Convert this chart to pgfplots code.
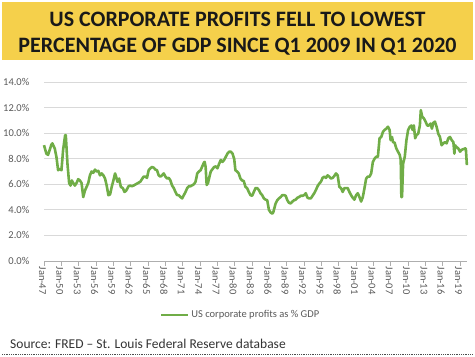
\documentclass[border=0pt]{standalone}
\usepackage{pgfplots}
\pgfplotsset{compat=1.18}
\usepackage{fontspec}
\setmainfont{Carlito}
\definecolor{titlebg}{RGB}{245,208,75}
\definecolor{linegreen}{RGB}{112,173,71}
\definecolor{gridgray}{RGB}{217,217,217}
\definecolor{ticktext}{RGB}{89,89,89}
\begin{document}
\begin{tikzpicture}
\useasboundingbox (0bp,0bp) rectangle (475bp,357bp);
\fill[titlebg] (2bp,297bp) rectangle (473bp,355bp);
\node[anchor=base,inner sep=0pt,text=black!90,font=\fontsize{22bp}{26bp}\selectfont\bfseries] at (237.5bp,330bp) {US CORPORATE PROFITS FELL TO LOWEST};
\node[anchor=base,inner sep=0pt,text=black!90,font=\fontsize{22bp}{26bp}\selectfont\bfseries] at (237.5bp,304bp) {PERCENTAGE OF GDP SINCE Q1 2009 IN Q1 2020};
\begin{axis}[
  at={(44bp,96bp)}, anchor=south west,
  scale only axis, width=423bp, height=179bp,
  xmin=1947, xmax=2020.2, ymin=0, ymax=14,
  axis line style={draw=none},
  axis x line*=bottom,
  x axis line style={draw=gridgray!80!black, line width=0.8bp},
  ytick={0,2,...,14},
  yticklabels={0.0\%,2.0\%,4.0\%,6.0\%,8.0\%,10.0\%,12.0\%,14.0\%},
  ymajorgrids, grid style={gridgray, line width=0.9bp},
  ytick style={draw=none},
  xtick={1947,1950,...,2019},
  xticklabels={Jan-47,Jan-50,Jan-53,Jan-56,Jan-59,Jan-62,Jan-65,Jan-68,Jan-71,Jan-74,Jan-77,Jan-80,Jan-83,Jan-86,Jan-89,Jan-92,Jan-95,Jan-98,Jan-01,Jan-04,Jan-07,Jan-10,Jan-13,Jan-16,Jan-19},
  xtick pos=bottom, tick align=outside,
  major tick length=4.5bp,
  xtick style={draw=gridgray!80!black, line width=0.8bp},
  tick label style={font=\fontsize{10.5bp}{12bp}\selectfont, text=ticktext},
  xticklabel style={rotate=-90, anchor=west, inner sep=1bp, yshift=-1.5bp},
  yticklabel style={anchor=east, inner sep=0pt, xshift=-10bp},
  legend style={at={(0.4645,-0.302)}, anchor=center, draw=none, fill=none,
    font=\fontsize{10.5bp}{12bp}\selectfont, text=ticktext, inner sep=0pt},
  legend image code/.code={\draw[#1] (0bp,0bp) -- (27bp,0bp);},
  clip=false,
]
\addplot[linegreen, line width=2.6bp, line join=round] coordinates {
(1947.00,9.06)(1947.41,8.4)(1947.70,8.3)(1947.99,8.7)(1948.28,9.1)(1948.45,9.2)(1948.86,8.8)(1949.15,8.15)(1949.44,7.1)(1949.73,7.2)(1950.02,7.1)(1950.31,8.7)(1950.66,9.85)(1950.77,9.85)(1951.06,7.6)(1951.35,6.1)(1951.59,5.9)(1951.82,6.3)(1952.05,6.1)(1952.34,5.9)(1952.63,6.1)(1952.92,6.4)(1953.21,6.3)(1953.50,6.1)(1953.79,5.0)(1954.08,5.5)(1954.37,5.8)(1954.66,6.1)(1954.95,6.7)(1955.24,7.0)(1955.53,6.9)(1955.82,7.15)(1956.11,7.0)(1956.40,7.05)(1956.69,6.7)(1956.98,6.85)(1957.27,6.7)(1957.56,6.45)(1957.85,5.9)(1958.14,5.15)(1958.43,5.2)(1958.72,5.8)(1959.01,6.3)(1959.30,6.85)(1959.48,6.6)(1959.71,6.2)(1960.00,6.45)(1960.29,5.8)(1960.64,5.7)(1960.93,5.4)(1961.22,5.5)(1961.63,5.85)(1961.92,5.9)(1962.21,5.85)(1962.50,5.9)(1963.08,6.05)(1963.66,6.2)(1963.95,6.4)(1964.24,6.6)(1964.53,6.6)(1964.82,6.5)(1965.11,7.1)(1965.40,7.25)(1965.69,7.35)(1965.98,7.3)(1966.27,7.15)(1966.56,7.1)(1966.85,6.7)(1967.14,6.6)(1967.43,6.7)(1967.72,6.85)(1968.01,6.6)(1968.30,6.45)(1968.59,6.5)(1968.88,6.3)(1969.17,5.9)(1969.46,5.7)(1969.75,5.4)(1970.04,5.15)(1970.33,5.15)(1970.62,5.0)(1970.91,4.9)(1971.20,5.15)(1971.49,5.4)(1971.78,5.7)(1972.07,5.85)(1972.36,5.85)(1972.94,6.0)(1973.23,6.2)(1973.52,6.85)(1973.81,7.0)(1974.10,7.1)(1974.39,7.4)(1974.68,7.7)(1974.80,7.75)(1974.97,7.35)(1975.15,5.95)(1975.38,6.1)(1975.56,6.45)(1975.85,7.0)(1976.43,7.35)(1976.72,7.4)(1977.01,7.25)(1977.30,7.6)(1977.59,7.9)(1977.88,7.75)(1978.17,7.9)(1978.46,8.15)(1978.75,8.4)(1979.04,8.55)(1979.33,8.55)(1979.62,8.4)(1979.91,8.0)
(1980.12,7.1)(1980.41,7.0)(1980.70,6.85)(1980.99,6.45)(1981.28,6.3)(1981.57,6.25)(1981.86,5.8)(1982.15,5.7)(1982.44,5.4)(1982.73,5.15)(1983.02,5.1)(1983.31,5.4)(1983.60,5.7)(1983.89,5.7)(1984.18,5.55)(1984.47,5.3)(1984.76,5.15)(1985.05,4.9)(1985.34,4.8)(1985.63,4.75)(1985.92,4.0)(1986.21,3.8)(1986.50,3.7)(1986.67,3.8)(1987.08,4.5)(1987.37,4.75)(1987.66,4.9)(1987.95,5.0)(1988.24,5.15)(1988.53,5.15)(1988.82,5.1)(1989.11,4.75)(1989.40,4.55)(1989.69,4.5)(1989.98,4.65)(1990.27,4.75)(1990.56,4.8)(1990.85,4.95)(1991.14,5.0)(1991.43,5.1)(1991.72,5.1)(1992.01,5.15)(1992.30,5.3)(1992.59,4.95)(1992.88,4.9)(1993.18,4.9)(1993.47,5.1)(1993.76,5.3)(1994.05,5.55)(1994.34,5.85)(1994.63,6.05)(1994.92,6.2)(1995.21,6.5)(1995.50,6.6)(1995.79,6.5)(1996.08,6.7)(1996.37,6.6)(1996.66,6.45)(1996.95,6.5)(1997.24,6.65)(1997.53,6.85)(1997.82,6.7)(1998.11,5.8)(1998.40,5.7)(1998.69,5.4)(1998.98,5.7)(1999.27,5.7)(1999.56,5.7)(1999.85,5.4)(2000.14,5.15)(2000.43,4.95)(2000.72,4.8)(2001.01,5.15)(2001.30,5.3)(2001.59,5.0)(2001.88,4.65)(2002.17,5.0)(2002.46,5.7)(2002.75,6.45)(2003.04,6.6)(2003.33,6.6)(2003.62,6.85)(2003.91,7.75)(2004.20,8.0)(2004.49,8.15)(2004.78,8.15)(2005.07,9.6)(2005.36,9.7)(2005.65,10.1)(2005.94,10.25)(2006.23,10.35)(2006.52,10.5)(2006.81,10.25)(2006.98,9.45)(2007.22,9.7)(2007.39,9.3)(2007.68,9.25)(2007.97,8.8)(2008.26,8.55)(2008.56,8.3)(2008.73,7.9)(2008.84,5.0)(2008.96,5.0)(2009.14,7.6)(2009.43,8.15)(2009.72,9.45)(2010.01,10.25)(2010.30,10.5)(2010.59,10.6)(2010.77,10.25)(2011.00,10.6)(2011.23,9.6)(2011.46,9.85)(2011.75,9.95)(2012.04,10.6)(2012.21,11.8)(2012.44,11.3)(2012.74,11.15)(2013.03,10.9)(2013.32,10.6)(2013.61,10.6)(2013.90,10.75)(2014.13,10.35)(2014.36,10.8)(2014.65,10.9)(2014.94,10.5)(2015.23,9.95)(2015.52,9.7)(2015.81,9.05)(2016.10,9.2)(2016.39,9.3)(2016.68,9.2)(2016.97,9.6)(2017.26,9.7)(2017.55,9.45)(2017.84,9.3)(2018.02,8.4)(2018.13,9.05)(2018.42,8.9)(2018.71,8.8)(2019.00,8.55)(2019.29,8.7)(2019.58,8.75)(2019.87,8.8)(2020.00,8.8)(2020.18,7.5)
};
\addlegendentry{US corporate profits as \% GDP}
\end{axis}
\node[anchor=base west,inner sep=0pt,text=black!80,font=\fontsize{13.5bp}{16bp}\selectfont] at (10bp,9bp) {Source: FRED – St. Louis Federal Reserve database};
\draw[black!70, line width=0.9bp, dash pattern=on 0.9bp off 0.9bp] (2bp,3bp) -- (473bp,3bp);
\end{tikzpicture}
\end{document}
